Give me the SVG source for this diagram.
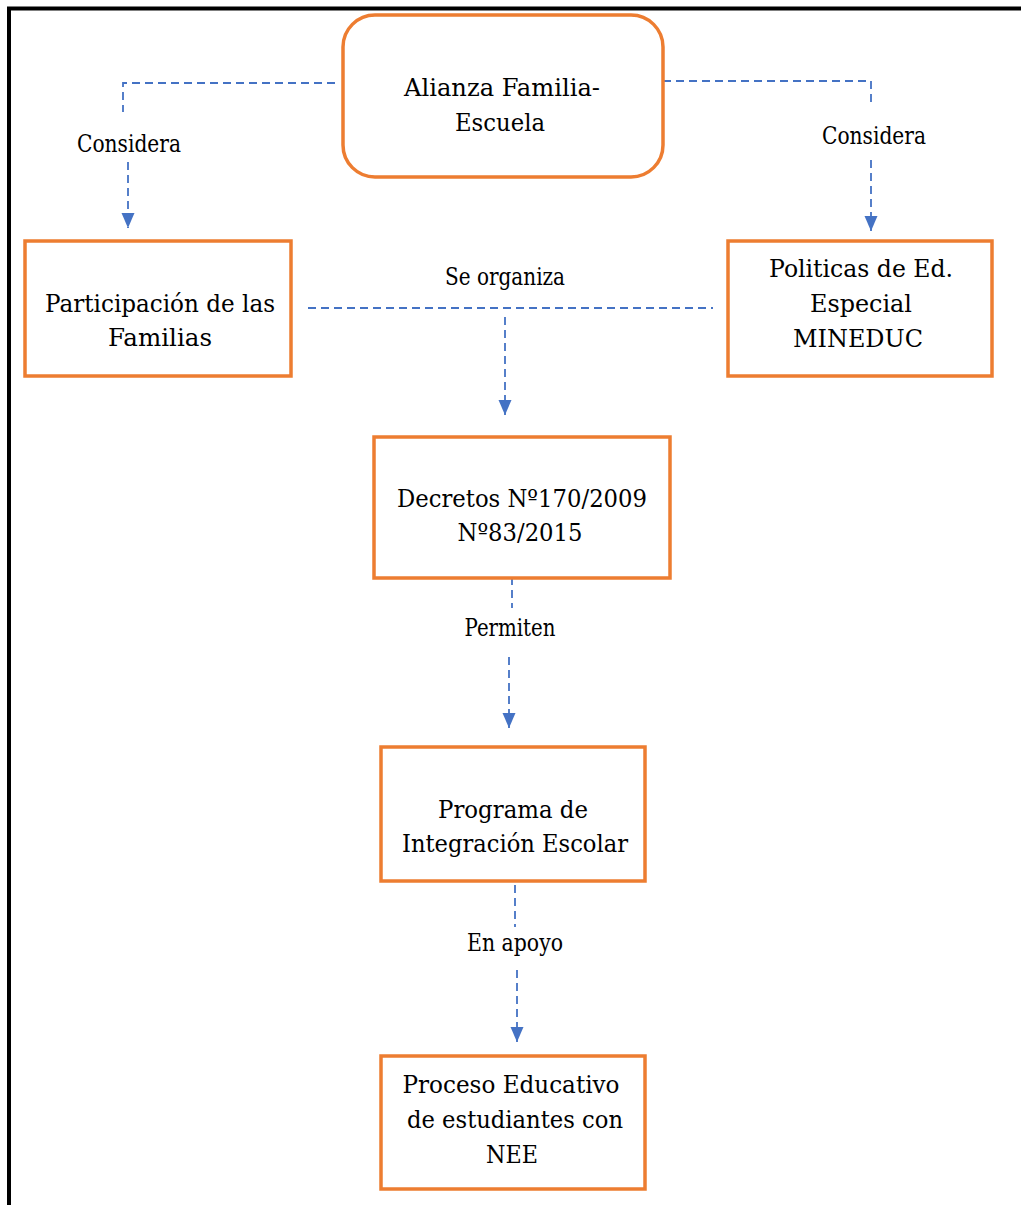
<svg xmlns="http://www.w3.org/2000/svg" width="1021" height="1205" viewBox="0 0 1021 1205">
<style>
.box{fill:#fff;stroke:#ED7D31;stroke-width:3.5}
text{font-family:'DejaVu Serif','Liberation Serif',serif;fill:#000;text-anchor:middle}
.nt{font-size:24px}
.lb{font-size:25px}
.cn{fill:none;stroke:#4472C4;stroke-width:1.8;stroke-dasharray:8 5}
.frame{fill:none;stroke:#000;stroke-width:4}
</style>
<defs>
<marker id="ah" markerUnits="userSpaceOnUse" markerWidth="16" markerHeight="14" refX="15" refY="7" orient="auto" viewBox="0 0 16 14">
<path d="M0,0.5 L15,7 L0,13.5 Z" fill="#4472C4"/>
</marker>
</defs>
<rect width="1021" height="1205" fill="#fff"/>
<path class="frame" d="M9,1205 V8.5 H1021"/>
<g id="connectors">
<path class="cn" d="M335,83 H123 V112"/>
<path class="cn" d="M128,162 V228" marker-end="url(#ah)"/>
<text class="lb" x="129" y="152" textLength="104" lengthAdjust="spacingAndGlyphs">Considera</text>
<path class="cn" d="M663,81 H871 V106"/>
<path class="cn" d="M871,160 V231" marker-end="url(#ah)"/>
<text class="lb" x="874" y="144" textLength="104" lengthAdjust="spacingAndGlyphs">Considera</text>
<path class="cn" d="M308,308 H713"/>
<path class="cn" d="M505,317 V415" marker-end="url(#ah)"/>
<text class="lb" x="505" y="285" textLength="120" lengthAdjust="spacingAndGlyphs">Se organiza</text>
<path class="cn" d="M512,577 V608"/>
<path class="cn" d="M509,657 V728" marker-end="url(#ah)"/>
<text class="lb" x="510" y="636" textLength="91" lengthAdjust="spacingAndGlyphs">Permiten</text>
<path class="cn" d="M515,885 V927"/>
<path class="cn" d="M517,970 V1042" marker-end="url(#ah)"/>
<text class="lb" x="515" y="951" textLength="96" lengthAdjust="spacingAndGlyphs">En apoyo</text>
</g>
<g id="alianza">
<rect class="box" x="343" y="15" width="320" height="162" rx="32"/>
<text class="nt" x="502" y="96" textLength="196" lengthAdjust="spacingAndGlyphs">Alianza Familia-</text>
<text class="nt" x="500" y="131" textLength="90" lengthAdjust="spacingAndGlyphs">Escuela</text>
</g>
<g id="participacion">
<rect class="box" x="25" y="241" width="266" height="135"/>
<text class="nt" x="160" y="312" textLength="230" lengthAdjust="spacingAndGlyphs">Participación de las</text>
<text class="nt" x="160" y="346" textLength="104" lengthAdjust="spacingAndGlyphs">Familias</text>
</g>
<g id="politicas">
<rect class="box" x="728" y="241" width="264" height="135"/>
<text class="nt" x="861" y="277" textLength="184" lengthAdjust="spacingAndGlyphs">Politicas de Ed.</text>
<text class="nt" x="861" y="312" textLength="102" lengthAdjust="spacingAndGlyphs">Especial</text>
<text class="nt" x="858" y="347" textLength="130" lengthAdjust="spacingAndGlyphs">MINEDUC</text>
</g>
<g id="decretos">
<rect class="box" x="374" y="437" width="296" height="141"/>
<text class="nt" x="522" y="507" textLength="250" lengthAdjust="spacingAndGlyphs">Decretos Nº170/2009</text>
<text class="nt" x="520" y="541" textLength="125" lengthAdjust="spacingAndGlyphs">Nº83/2015</text>
</g>
<g id="programa">
<rect class="box" x="381" y="747" width="264" height="134"/>
<text class="nt" x="513" y="818" textLength="150" lengthAdjust="spacingAndGlyphs">Programa de</text>
<text class="nt" x="515" y="852" textLength="226" lengthAdjust="spacingAndGlyphs">Integración Escolar</text>
</g>
<g id="proceso">
<rect class="box" x="381" y="1056" width="264" height="133"/>
<text class="nt" x="511" y="1093" textLength="217" lengthAdjust="spacingAndGlyphs">Proceso Educativo</text>
<text class="nt" x="515" y="1128" textLength="216" lengthAdjust="spacingAndGlyphs">de estudiantes con</text>
<text class="nt" x="512" y="1163" textLength="52" lengthAdjust="spacingAndGlyphs">NEE</text>
</g>
</svg>
